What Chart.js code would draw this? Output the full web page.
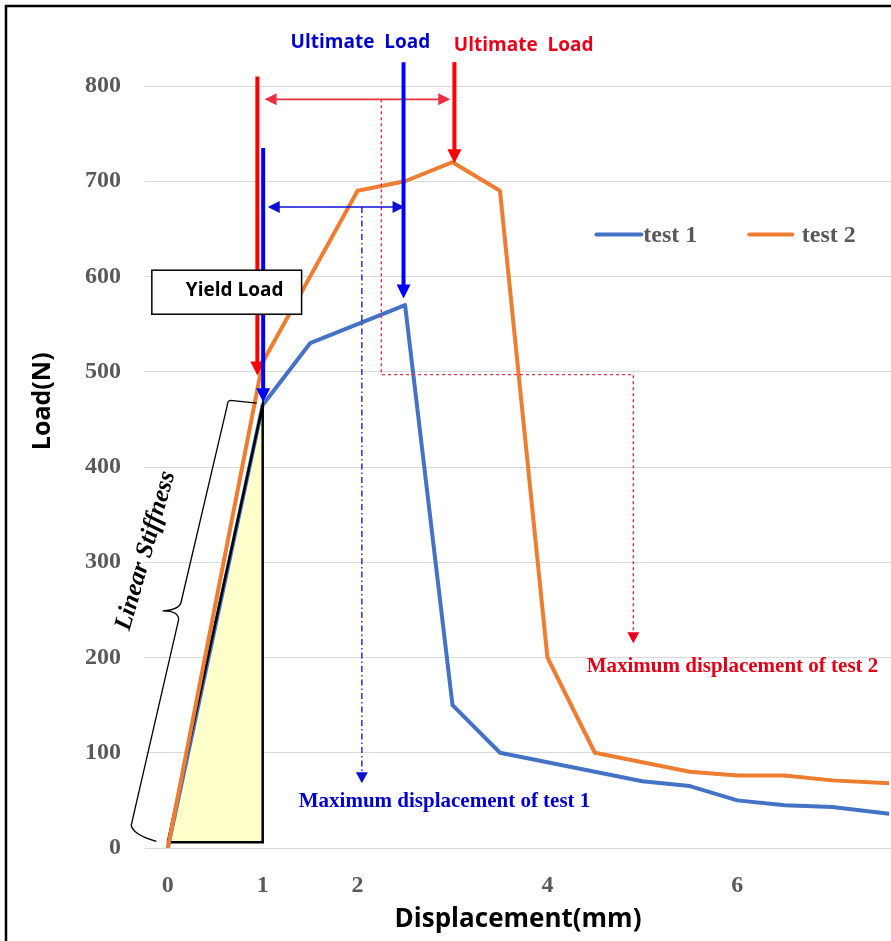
<!DOCTYPE html>
<html>
<head>
<meta charset="utf-8">
<script src="https://cdn.jsdelivr.net/npm/chart.js@4.4.1/dist/chart.umd.min.js"></script>
<style>
  body { margin: 0; background: #fff; }
  canvas { display: block; }
</style>
</head>
<body>
<canvas id="chart" width="891" height="941"></canvas>
<script>
// values
const test1X    = [0, 1, 1.5, 2.5, 3, 3.5, 4, 4.5, 5, 5.5, 6, 6.5, 7, 7.6];
const test1Load = [0, 465, 530, 570, 150, 100, 90, 80, 70, 65, 50, 45, 43, 36];
const test2X    = [0, 1, 2, 2.5, 3, 3.5, 4, 4.5, 5, 5.5, 6, 6.5, 7, 7.6];
const test2Load = [0, 510, 690, 700, 720, 690, 200, 100, 90, 80, 76, 76, 71, 68];
const seriesNames = ['test 1', 'test 2'];
const xTickLabels = [0, 1, 2, 4, 6];
const yTickLabels = [0, 100, 200, 300, 400, 500, 600, 700, 800];
const yieldBase = 6;

const BLUE = '#4472C4';
const ORANGE = '#ED7D31';
const RED = '#FF0000';
const DEEP_BLUE = '#0000FF';
const TICK_FONT = {family: 'Liberation Serif', size: 24, weight: 'bold'};

const toPoints = (xs, ys) => xs.map((x, i) => ({x: x, y: ys[i]}));

// linear stiffness triangle under the test 1 elastic branch
const yieldPoint = {x: test1X[1], y: test1Load[1]};
const stiffness = [
  {x: test1X[0], y: yieldBase},
  yieldPoint,
  {x: yieldPoint.x, y: yieldBase},
  {x: test1X[0], y: yieldBase}
];

function head(ctx, x, y, angle, len, half) {
  ctx.save();
  ctx.translate(x, y);
  ctx.rotate(angle);
  ctx.beginPath();
  ctx.moveTo(0, 0);
  ctx.lineTo(-len, -half);
  ctx.lineTo(-len, half);
  ctx.closePath();
  ctx.fill();
  ctx.restore();
}

function downArrow(ctx, x, yTop, yTip, color, width, len, half) {
  ctx.strokeStyle = color;
  ctx.fillStyle = color;
  ctx.lineWidth = width;
  ctx.setLineDash([]);
  ctx.beginPath();
  ctx.moveTo(x, yTop);
  ctx.lineTo(x, yTip - len + 1);
  ctx.stroke();
  head(ctx, x, yTip, Math.PI / 2, len, half);
}

function doubleArrow(ctx, x0, x1, y, color) {
  ctx.strokeStyle = color;
  ctx.fillStyle = color;
  ctx.lineWidth = 1.6;
  ctx.setLineDash([]);
  ctx.beginPath();
  ctx.moveTo(x0 + 8, y);
  ctx.lineTo(x1 - 8, y);
  ctx.stroke();
  head(ctx, x0, y, Math.PI, 12, 6);
  head(ctx, x1, y, 0, 12, 6);
}

const markup = {
  id: 'markup',
  beforeDraw(chart) {
    const ctx = chart.ctx;
    ctx.save();
    ctx.fillStyle = '#fff';
    ctx.fillRect(0, 0, chart.width, chart.height);
    ctx.strokeStyle = '#000';
    ctx.lineWidth = 2.5;
    ctx.strokeRect(6, 6, chart.width + 20, chart.height + 20);
    ctx.restore();
  },
  beforeDatasetsDraw(chart) {
    // pale fill of the stiffness triangle, taken from its dataset points
    const ctx = chart.ctx;
    const xs = chart.scales.x;
    const ys = chart.scales.y;
    ctx.save();
    ctx.fillStyle = '#FFFFCC';
    ctx.beginPath();
    stiffness.forEach((p, i) => {
      const px = xs.getPixelForValue(p.x);
      const py = ys.getPixelForValue(p.y);
      if (i === 0) ctx.moveTo(px, py); else ctx.lineTo(px, py);
    });
    ctx.closePath();
    ctx.fill();
    ctx.restore();
  },
  afterDatasetsDraw(chart) {
    const ctx = chart.ctx;
    const xs = chart.scales.x;
    const ys = chart.scales.y;
    const X = v => xs.getPixelForValue(v);
    const Y = v => ys.getPixelForValue(v);
    ctx.save();

    // dashed guides to the maximum displacement labels
    ctx.lineWidth = 1.4;
    ctx.strokeStyle = '#E03048';
    ctx.fillStyle = '#E8001C';
    ctx.setLineDash([3, 3]);
    ctx.beginPath();
    ctx.moveTo(X(2.25), Y(786));
    ctx.lineTo(X(2.25), Y(497));
    ctx.lineTo(X(4.905), Y(497));
    ctx.lineTo(X(4.905), Y(215) - 10);
    ctx.stroke();
    ctx.setLineDash([]);
    head(ctx, X(4.905), Y(215), Math.PI / 2, 11, 6);

    ctx.strokeStyle = '#2020C8';
    ctx.fillStyle = '#1010D0';
    ctx.setLineDash([6, 3, 1.5, 3]);
    ctx.beginPath();
    ctx.moveTo(X(2.045), Y(673));
    ctx.lineTo(X(2.045), Y(68) - 10);
    ctx.stroke();
    ctx.setLineDash([]);
    head(ctx, X(2.045), Y(68), Math.PI / 2, 11, 6);

    // displacement spans
    doubleArrow(ctx, X(1.02), X(2.976), Y(786), '#E83040');
    doubleArrow(ctx, X(1.053), X(2.495), Y(673), '#1010D0');

    // yield and ultimate arrows
    downArrow(ctx, X(0.944), Y(810), Y(496), RED, 4, 14, 7);
    downArrow(ctx, X(1.005), Y(735), Y(468), DEEP_BLUE, 4, 14, 7);
    downArrow(ctx, X(2.484), Y(825), Y(577), DEEP_BLUE, 4, 14, 7);
    downArrow(ctx, X(3.02), Y(825), Y(719), RED, 4, 14, 7);

    // yield load box
    const bx0 = X(-0.168), bx1 = X(1.41), by0 = Y(606.6), by1 = Y(560.4);
    ctx.fillStyle = '#fff';
    ctx.fillRect(bx0, by0, bx1 - bx0, by1 - by0);
    ctx.strokeStyle = '#000';
    ctx.lineWidth = 1.5;
    ctx.strokeRect(bx0, by0, bx1 - bx0, by1 - by0);
    ctx.fillStyle = '#000';
    ctx.font = 'bold 19px "Open Sans"';
    ctx.textAlign = 'center';
    ctx.textBaseline = 'middle';
    ctx.fillText('Yield Load', X(0.705), Y(585));

    // ultimate load labels
    ctx.font = 'bold 19px "Open Sans"';
    ctx.fillStyle = '#0000CC';
    ctx.fillText('Ultimate  Load', X(2.03), Y(846));
    ctx.fillStyle = '#E8001C';
    ctx.fillText('Ultimate  Load', X(3.75), Y(842));

    // maximum displacement labels
    ctx.font = 'bold 21px "Liberation Serif"';
    ctx.fillStyle = '#E00018';
    ctx.fillText('Maximum displacement of test 2', X(5.95), Y(190));
    ctx.fillStyle = '#0000CC';
    ctx.fillText('Maximum displacement of test 1', X(2.916), Y(49));

    // linear stiffness brace
    ctx.strokeStyle = '#000';
    ctx.lineWidth = 1.3;
    ctx.lineJoin = 'round';
    ctx.beginPath();
    ctx.moveTo(X(0.937), Y(467));
    ctx.lineTo(X(0.66), Y(470));
    ctx.quadraticCurveTo(X(0.63), Y(470), X(0.625), Y(464));
    ctx.lineTo(X(0.14), Y(258));
    ctx.quadraticCurveTo(X(0.12), Y(250), X(-0.05), Y(249));
    ctx.quadraticCurveTo(X(0.11), Y(249), X(0.115), Y(240));
    ctx.lineTo(X(-0.385), Y(24));
    ctx.quadraticCurveTo(X(-0.37), Y(14), X(-0.12), Y(7));
    ctx.stroke();

    ctx.save();
    ctx.translate(X(-0.232), Y(312));
    ctx.rotate(-74 * Math.PI / 180);
    ctx.font = 'italic bold 25px "Liberation Serif"';
    ctx.fillStyle = '#000';
    ctx.fillText('Linear Stiffness', 0, 0);
    ctx.restore();

    // legend
    const legendY = Y(644);
    const legend = [
      {color: BLUE, x0: X(4.516), x1: X(4.99), tx: X(5.01)},
      {color: ORANGE, x0: X(6.126), x1: X(6.58), tx: X(6.68)}
    ];
    ctx.font = 'bold 24px "Liberation Serif"';
    ctx.textAlign = 'left';
    legend.forEach((item, i) => {
      ctx.strokeStyle = item.color;
      ctx.lineWidth = 4;
      ctx.lineCap = 'round';
      ctx.beginPath();
      ctx.moveTo(item.x0, legendY);
      ctx.lineTo(item.x1, legendY);
      ctx.stroke();
      ctx.fillStyle = '#595959';
      ctx.fillText(seriesNames[i], item.tx, legendY + 1);
    });

    // y axis title
    ctx.save();
    ctx.translate(xs.left - 102, Y(469));
    ctx.rotate(-Math.PI / 2);
    ctx.font = 'bold 25px "Open Sans"';
    ctx.fillStyle = '#000';
    ctx.textAlign = 'center';
    ctx.fillText('Load(N)', 0, 0);
    ctx.restore();

    ctx.restore();
  }
};

new Chart(document.getElementById('chart'), {
  type: 'line',
  data: {
    datasets: [
      {
        label: seriesNames[1],
        data: toPoints(test2X, test2Load),
        borderColor: ORANGE,
        borderWidth: 4,
        borderJoinStyle: 'round',
        pointRadius: 0,
        tension: 0,
        order: 0
      },
      {
        label: 'linear stiffness',
        data: stiffness,
        borderColor: '#000',
        borderWidth: 2.5,
        fill: false,
        pointRadius: 0,
        tension: 0,
        order: 1
      },
      {
        label: seriesNames[0],
        data: toPoints(test1X, test1Load),
        borderColor: BLUE,
        borderWidth: 4,
        borderJoinStyle: 'round',
        pointRadius: 0,
        tension: 0,
        order: 2
      }
    ]
  },
  options: {
    responsive: false,
    animation: false,
    devicePixelRatio: 1,
    layout: {padding: {top: 86, right: 0, bottom: 0, left: 0}},
    plugins: {
      legend: {display: false},
      tooltip: {enabled: false}
    },
    scales: {
      x: {
        type: 'linear',
        min: -0.24,
        max: 7.62,
        afterBuildTicks: scale => { scale.ticks = xTickLabels.map(v => ({value: v})); },
        afterFit: scale => { scale.height = 93; },
        grid: {display: false},
        border: {display: false},
        ticks: {font: TICK_FONT, color: '#595959', padding: 15, maxRotation: 0},
        title: {
          display: true,
          text: 'Displacement(mm)',
          font: {family: 'Open Sans', size: 26, weight: 'bold'},
          color: '#000',
          padding: {top: 0, bottom: 6}
        }
      },
      y: {
        min: 0,
        max: 800,
        afterBuildTicks: scale => { scale.ticks = yTickLabels.map(v => ({value: v})); },
        afterFit: scale => { scale.width = 145; },
        grid: {color: '#D9D9D9', lineWidth: 1, drawTicks: false},
        border: {display: false},
        ticks: {font: TICK_FONT, color: '#595959', padding: 24}
      }
    }
  },
  plugins: [markup]
});
</script>
</body>
</html>
